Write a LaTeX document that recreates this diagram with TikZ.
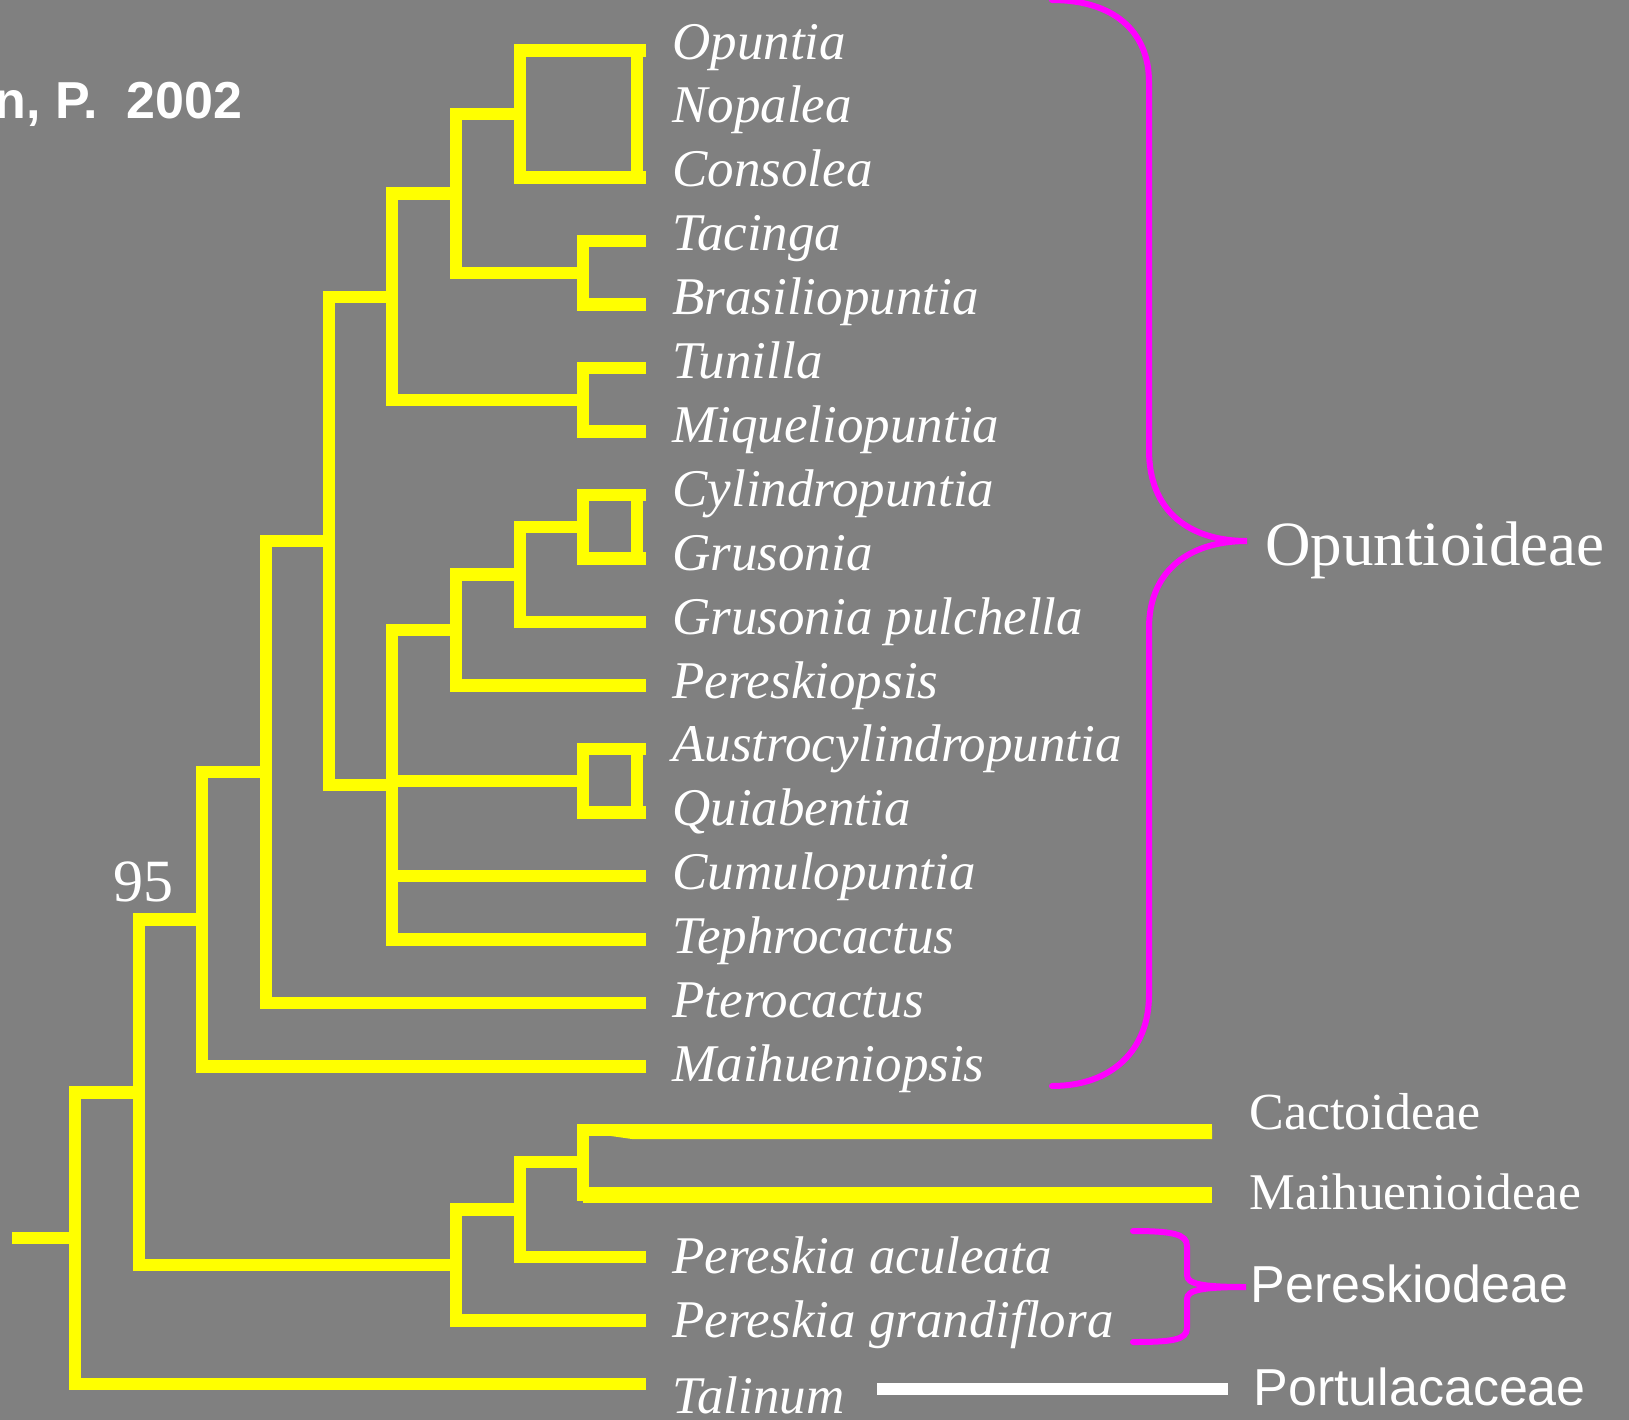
\documentclass[tikz,border=0pt]{standalone}
\usepackage{fontspec}
\setmainfont{Liberation Serif}
\newfontfamily\arialf{Liberation Sans}
\definecolor{bggray}{HTML}{808080}
\definecolor{treeyellow}{HTML}{FFFF00}
\definecolor{bracemag}{HTML}{FF00FF}
\begin{document}
\begin{tikzpicture}[x=0.5pt,y=-0.5pt,
  branch/.style={draw=treeyellow, line width=6.25pt, line join=miter},
  thickbranch/.style={draw=treeyellow, line width=8pt},
  leaf/.style={anchor=base west, inner sep=0pt, text=white, font=\fontsize{26.5}{30}\selectfont\itshape},
  grouplab/.style={anchor=base west, inner sep=0pt, text=white},
  bracestyle/.style={draw=bracemag, line width=3pt, line cap=round}]
\useasboundingbox (0,0) rectangle (1629,1420);
\fill[bggray] (0,0) rectangle (1629,1420);

% title
\node[anchor=base east, inner sep=0pt, text=white, font=\arialf\bfseries\fontsize{26}{30}\selectfont] (title) at (243,118) {n, P.\ \ 2002};

% leaf tips
\coordinate (tOpuntia) at (646,50.7);
\coordinate (tConsolea) at (646,177.7);
\coordinate (tTacinga) at (646,241.2);
\coordinate (tBrasilio) at (646,304.7);
\coordinate (tTunilla) at (646,368.2);
\coordinate (tMiquelio) at (646,431.7);
\coordinate (tCylindro) at (646,495.2);
\coordinate (tGrusonia) at (646,558.7);
\coordinate (tGpulch) at (646,622.2);
\coordinate (tPereskiopsis) at (646,685.7);
\coordinate (tAustro) at (646,749.2);
\coordinate (tQuiab) at (646,812.7);
\coordinate (tCumulo) at (646,876.2);
\coordinate (tTephro) at (646,939.7);
\coordinate (tPtero) at (646,1003.2);
\coordinate (tMaihop) at (646,1066.7);
\coordinate (tCact) at (1212,1130.2);
\coordinate (tMaih) at (1212,1195);
\coordinate (tPacul) at (646,1257.2);
\coordinate (tPgrand) at (646,1320.7);
\coordinate (tTalinum) at (646,1384.2);

% internal nodes
\coordinate (nOpu) at (520,114.2);
\coordinate (nTac) at (583,272.95);
\coordinate (nA) at (456,193.6);
\coordinate (nTun) at (583,399.95);
\coordinate (nB) at (392,296.8);
\coordinate (nCyl) at (583,526.95);
\coordinate (nC) at (520,574.6);
\coordinate (nD) at (456,630.1);
\coordinate (nAus) at (583,780.95);
\coordinate (nE) at (392,784.9);
\coordinate (nF) at (329,540.85);
\coordinate (nG) at (266,772);
\coordinate (nH) at (202,919.35);
\coordinate (nCM) at (583,1162);
\coordinate (nI) at (520,1209.6);
\coordinate (nJ) at (456,1265.15);
\coordinate (nK) at (139,1092.25);
\coordinate (nRoot) at (75,1238.2);
\coordinate (stub) at (12,1238.2);

% box right sides
\coordinate (bOpu1) at (637,50.7);
\coordinate (bOpu2) at (637,177.7);
\coordinate (bCyl1) at (637,495.2);
\coordinate (bCyl2) at (637,558.7);
\coordinate (bAus1) at (637,749.2);
\coordinate (bAus2) at (637,812.7);

% branches
\draw[branch] (nOpu) |- (tOpuntia);
\draw[branch] (nOpu) |- (tConsolea);
\draw[branch] (bOpu1) -- (bOpu2);
\draw[branch] (nTac) |- (tTacinga);
\draw[branch] (nTac) |- (tBrasilio);
\draw[branch] (nA) |- (nOpu);
\draw[branch] (nA) |- (nTac);
\draw[branch] (nTun) |- (tTunilla);
\draw[branch] (nTun) |- (tMiquelio);
\draw[branch] (nB) |- (nA);
\draw[branch] (nB) |- (nTun);
\draw[branch] (nCyl) |- (tCylindro);
\draw[branch] (nCyl) |- (tGrusonia);
\draw[branch] (bCyl1) -- (bCyl2);
\draw[branch] (nC) |- (nCyl);
\draw[branch] (nC) |- (tGpulch);
\draw[branch] (nD) |- (nC);
\draw[branch] (nD) |- (tPereskiopsis);
\draw[branch] (nAus) |- (tAustro);
\draw[branch] (nAus) |- (tQuiab);
\draw[branch] (bAus1) -- (bAus2);
\draw[branch] (nE) |- (nD);
\draw[branch] (nE) |- (nAus);
\draw[branch] (nE) |- (tCumulo);
\draw[branch] (nE) |- (tTephro);
\draw[branch] (nF) |- (nB);
\draw[branch] (nF) |- (nE);
\draw[branch] (nG) |- (nF);
\draw[branch] (nG) |- (tPtero);
\draw[branch] (nH) |- (nG);
\draw[branch] (nH) |- (tMaihop);
\draw[branch] (nCM) |- (tCact);
\draw[branch] (nCM) |- (tMaih);
\fill[treeyellow] (590,1133) -- (632,1139) -- (1212,1139) -- (1212,1130) -- (590,1130) -- cycle;
\draw[thickbranch] (nCM |- tMaih) -- (tMaih);
\draw[branch] (nI) |- (nCM);
\draw[branch] (nI) |- (tPacul);
\draw[branch] (nJ) |- (nI);
\draw[branch] (nJ) |- (tPgrand);
\draw[branch] (nK) |- (nH);
\draw[branch] (nK) |- (nJ);
\draw[branch] (nRoot) |- (nK);
\draw[branch] (nRoot) |- (tTalinum);
\draw[branch] (stub) -- (nRoot);

% bootstrap value
\node[anchor=base, inner sep=0pt, text=white, font=\fontsize{30}{34}\selectfont] (boot) at (143,901) {95};

% leaf labels
\node[leaf] (Opuntia) at (672,59) {Opuntia};
\node[leaf] (Nopalea) at (672,122.9) {Nopalea};
\node[leaf] (Consolea) at (672,186.8) {Consolea};
\node[leaf] (Tacinga) at (672,250.7) {Tacinga};
\node[leaf] (Brasiliopuntia) at (672,314.6) {Brasiliopuntia};
\node[leaf] (Tunilla) at (672,378.5) {Tunilla};
\node[leaf] (Miqueliopuntia) at (672,442.4) {Miqueliopuntia};
\node[leaf] (Cylindropuntia) at (672,506.3) {Cylindropuntia};
\node[leaf] (Grusonia) at (672,570.2) {Grusonia};
\node[leaf] (Gpulchella) at (672,634.1) {Grusonia pulchella};
\node[leaf] (Pereskiopsis) at (672,698) {Pereskiopsis};
\node[leaf] (Austro) at (672,761.9) {Austrocylindropuntia};
\node[leaf] (Quiabentia) at (672,825.8) {Quiabentia};
\node[leaf] (Cumulopuntia) at (672,889.7) {Cumulopuntia};
\node[leaf] (Tephrocactus) at (672,953.6) {Tephrocactus};
\node[leaf] (Pterocactus) at (672,1017.5) {Pterocactus};
\node[leaf] (Maihueniopsis) at (672,1081.4) {Maihueniopsis};
\node[leaf] (Paculeata) at (672,1273.1) {Pereskia aculeata};
\node[leaf] (Pgrandiflora) at (672,1337) {Pereskia grandiflora};
\node[leaf] (Talinum) at (672,1413) {Talinum};

% group labels
\node[grouplab, font=\fontsize{31.5}{36}\selectfont] (Opuntioideae) at (1265,565) {Opuntioideae};
\node[grouplab, font=\fontsize{26}{30}\selectfont] (Cactoideae) at (1249,1129) {Cactoideae};
\node[grouplab, font=\fontsize{25.75}{30}\selectfont] (Maihuenioideae) at (1249,1209) {Maihuenioideae};
\node[grouplab, font=\arialf\fontsize{26}{30}\selectfont] (Pereskiodeae) at (1250,1302) {Pereskiodeae};
\node[grouplab, font=\arialf\fontsize{26}{30}\selectfont] (Portulacaceae) at (1253,1405) {Portulacaceae};

% braces
\draw[bracestyle] (1052,0) .. controls (1112,0) and (1149,30) .. (1149,82) -- (1149,450)
  .. controls (1149,512) and (1190,541) .. (1247,541)
  .. controls (1190,541) and (1149,570) .. (1149,628) -- (1149,995)
  .. controls (1149,1050) and (1112,1086) .. (1052,1086);
\draw[bracestyle] (1133,1231) .. controls (1172,1231) and (1187,1234) .. (1187,1246) -- (1187,1275)
  .. controls (1187,1284) and (1202,1287) .. (1246,1287)
  .. controls (1202,1287) and (1187,1290) .. (1187,1299) -- (1187,1328)
  .. controls (1187,1340) and (1172,1342) .. (1133,1342);

% Talinum to Portulacaceae line
\coordinate (wl1) at (877,1389);
\coordinate (wl2) at (1228,1389);
\draw[white, line width=6pt] (wl1) -- (wl2);
\end{tikzpicture}
\end{document}
